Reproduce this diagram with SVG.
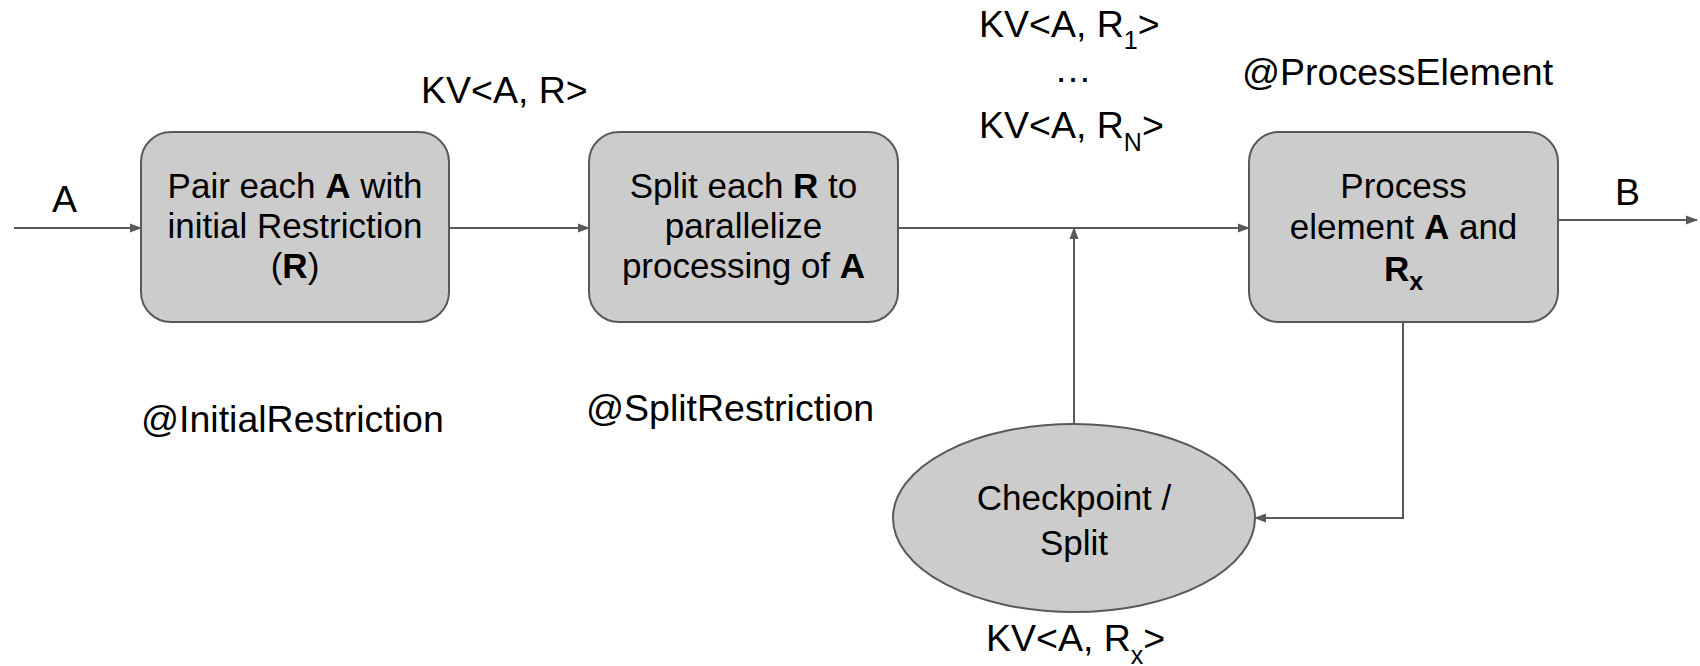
<svg xmlns="http://www.w3.org/2000/svg" width="1700" height="666" viewBox="0 0 1700 666">
<defs>
<marker id="arr" markerUnits="userSpaceOnUse" markerWidth="12" markerHeight="10" refX="11" refY="5" orient="auto"><path d="M0,0.5 L12,5 L0,9.5 z" fill="#595959"/></marker>
<style>
.node{fill:#cccccc;stroke:#595959;stroke-width:2}
.t{font-family:"Liberation Sans",Arial,sans-serif;font-size:35px;fill:#000;text-anchor:middle}
.lbl{font-family:"Liberation Sans",Arial,sans-serif;font-size:37.5px;fill:#000}
.b{font-weight:bold}
.conn{fill:none;stroke:#595959;stroke-width:2;marker-end:url(#arr)}
</style>
</defs>
<rect width="1700" height="666" fill="#fff"/>
<g id="connectors">
<path class="conn" d="M14,228 L141,228"/>
<path class="conn" d="M449,228 L589,228"/>
<path class="conn" d="M898,228 L1249,228"/>
<path class="conn" d="M1074,424 L1074,228"/>
<path class="conn" d="M1558,220 L1697,220"/>
<path class="conn" d="M1403,322 L1403,518 L1255,518"/>
</g>
<g id="node-initial">
<rect class="node" x="141" y="132" width="308" height="190" rx="30"/>
<text class="t" x="295" y="198">Pair each <tspan class="b">A</tspan> with</text>
<text class="t" x="295" y="238">initial Restriction</text>
<text class="t" x="295" y="278">(<tspan class="b">R</tspan>)</text>
</g>
<g id="node-split">
<rect class="node" x="589" y="132" width="309" height="190" rx="30"/>
<text class="t" x="743.5" y="198">Split each <tspan class="b">R</tspan> to</text>
<text class="t" x="743.5" y="238">parallelize</text>
<text class="t" x="743.5" y="278">processing of <tspan class="b">A</tspan></text>
</g>
<g id="node-process">
<rect class="node" x="1249" y="132" width="309" height="190" rx="30"/>
<text class="t" x="1403.5" y="198">Process</text>
<text class="t" x="1403.5" y="239">element <tspan class="b">A</tspan> and</text>
<text class="t b" x="1403.5" y="281">R<tspan font-size="25" dy="9">x</tspan></text>
</g>
<g id="node-checkpoint">
<ellipse class="node" cx="1074" cy="518" rx="181" ry="94"/>
<text class="t" x="1074" y="510" font-size="38.5">Checkpoint /</text>
<text class="t" x="1074" y="555" font-size="38.5">Split</text>
</g>
<g id="labels">
<text class="lbl" x="52" y="212">A</text>
<text class="lbl" x="1615" y="205">B</text>
<text class="lbl" x="421" y="103">KV&lt;A, R&gt;</text>
<text class="lbl" x="141" y="432">@InitialRestriction</text>
<text class="lbl" x="586" y="421">@SplitRestriction</text>
<text class="lbl" x="1242" y="85">@ProcessElement</text>
<text class="lbl" x="979" y="37">KV&lt;A, R<tspan font-size="25" dy="12">1</tspan><tspan dy="-12">&gt;</tspan></text>
<text class="lbl" x="1073" y="82" text-anchor="middle">…</text>
<text class="lbl" x="979" y="138">KV&lt;A, R<tspan font-size="25" dy="13">N</tspan><tspan dy="-13">&gt;</tspan></text>
<text class="lbl" x="986" y="651">KV&lt;A, R<tspan font-size="25" dy="13">x</tspan><tspan dy="-13">&gt;</tspan></text>
</g>
</svg>
